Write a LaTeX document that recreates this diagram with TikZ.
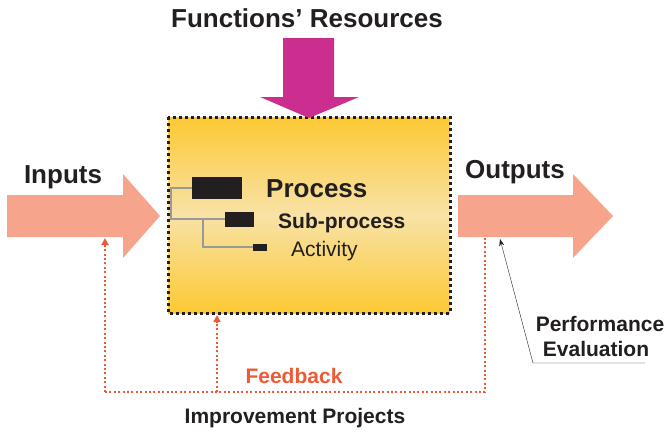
\documentclass[tikz,border=0pt]{standalone}
\usepackage{fontspec}
\setmainfont{Liberation Sans}
\usetikzlibrary{arrows.meta}

\definecolor{salmon}{HTML}{F6A48C}
\definecolor{magenta}{HTML}{CC2E8F}
\definecolor{feedred}{HTML}{EE5A35}
\definecolor{boxtop}{HTML}{FCC934}
\definecolor{boxmid}{HTML}{F8E2A6}
\definecolor{linegray}{HTML}{999999}
\definecolor{ink}{HTML}{231F20}

\tikzset{
  bigarrow/.style={fill=salmon,draw=none},
  label/.style={text=ink,font=\bfseries\fontsize{21}{21}\selectfont,inner sep=0pt},
  biglabel/.style={text=ink,font=\bfseries\fontsize{26}{26}\selectfont,inner sep=0pt},
  feedline/.style={feedred,line width=2.2pt,dash pattern=on 2pt off 2.4pt},
  tree/.style={linegray,line width=1.6pt}
}

\begin{document}
\begin{tikzpicture}[x=1pt,y=-1pt]
	\useasboundingbox (0,0) rectangle (668,431);

	% Process box
	\shade[top color=boxtop,bottom color=boxtop,middle color=boxmid] (168,117) rectangle (450,313);
	\draw[ink,line width=3pt,dash pattern=on 3pt off 3pt] (168,117) rectangle (450,313);
	\coordinate (boxbot) at (217,315);

	% Resources
	\node[biglabel] (res) at (307,18) {Functions’ Resources};
	\fill[magenta] (283,38) -- (334,38) -- (334,97) -- (359,97) -- (309,118) -- (260,97) -- (283,97) -- cycle;

	% Inputs
	\fill[bigarrow] (7,195) -- (123,195) -- (123,174) -- (160,216) -- (123,258) -- (123,237) -- (7,237) -- cycle;
	\node[biglabel] (in) at (63,177) {Inputs};
	\coordinate (inbot) at (105,238);

	% Outputs
	\fill[bigarrow] (458,195) -- (573,195) -- (573,174) -- (613,216) -- (573,258) -- (573,237) -- (458,237) -- cycle;
	\node[biglabel] (out) at (515,172) {Outputs};
	\coordinate (outbot) at (485,237);
	\coordinate (outeval) at (500,239);

	% Tree
	\fill[ink] (192,177) rectangle (242,199);
	\fill[ink] (225,212) rectangle (254,227);
	\fill[ink] (253,244) rectangle (267,251);
	\draw[tree] (192,188) -- (171,188) -- (171,219) -- (225,219);
	\draw[tree] (203,219) -- (203,247) -- (253,247);
	\node[biglabel,anchor=base west] (proc) at (266,197) {Process};
	\node[label,anchor=base west] (sub) at (278,228) {Sub-process};
	\node[text=ink,font=\fontsize{21}{21}\selectfont,inner sep=0pt,anchor=base west] (act) at (291,256) {Activity};

	% Feedback
	\coordinate (fbleft) at (105,392);
	\coordinate (fbmid) at (217,392);
	\coordinate (fbright) at (485,392);
	\draw[feedline,-{Triangle[length=7pt,width=7pt]}] (fbleft) -- (inbot);
	\draw[feedline,-{Triangle[length=7pt,width=7pt]}] (fbmid) -- (boxbot);
	\draw[feedline] (fbleft) -- (fbright) -- (outbot);
	\node[label,text=feedred] (fb) at (294,376) {Feedback};
	\node[label] (imp) at (295,418) {Improvement Projects};

	% Performance evaluation
	\node[label] (perf) at (600,324) {Performance};
	\node[label] (eval) at (596,349) {Evaluation};
	\coordinate (perfcorner) at (533,363);
	\coordinate (perfend) at (645,363);
	\draw[ink,thin,-{Stealth[length=7pt,width=5pt]}] (perfend) -- (perfcorner) -- (outeval);
\end{tikzpicture}
\end{document}
